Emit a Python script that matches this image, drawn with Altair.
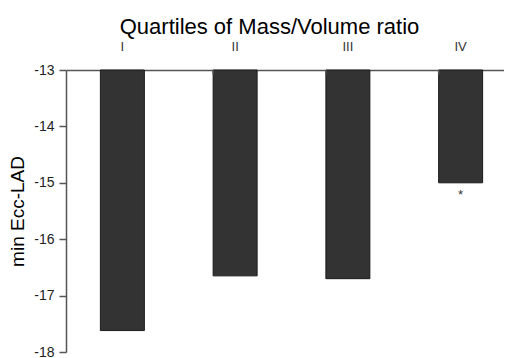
import altair as alt
import pandas as pd

categories = ["I", "II", "III", "IV"]
values = [-17.62, -16.65, -16.7, -15.0]
marks = ["", "", "", "*"]

df = pd.DataFrame({"cat": categories, "val": values, "mark": marks})

xscale = alt.Scale(domain=categories, range=[0, 451], paddingInner=0.61, paddingOuter=0.305)
yscale = alt.Scale(domain=[-18, -13], nice=False, zero=False)

base = alt.Chart(df)

bars = base.mark_bar(color="#333333", stroke="#1a1a1a", strokeWidth=1).encode(
    x=alt.X("cat:N", scale=xscale, sort=categories,
            axis=alt.Axis(orient="top", title="Quartiles of Mass/Volume ratio",
                          labelAngle=0, ticks=False, labelPadding=17,
                          labelFont="Liberation Sans", labelFontSize=13, labelColor="#333",
                          titleFont="Liberation Sans", titleFontSize=22, titleFontWeight="normal",
                          titleColor="#000", titleX=203, titleY=-37,
                          titleBaseline="alphabetic", titleAlign="center",
                          domainColor="#555", domainWidth=1.5)),
    y=alt.Y("val:Q", scale=yscale,
            axis=alt.Axis(title="min Ecc-LAD", values=[-18, -17, -16, -15, -14, -13],
                          labelExpr="'' + datum.value",
                          grid=False, tickSize=7, tickColor="#555", tickWidth=1.5,
                          domainColor="#555", domainWidth=1.5,
                          labelFont="Liberation Sans", labelFontSize=14, labelColor="#222",
                          labelPadding=5,
                          titleFont="Liberation Sans", titleFontSize=19, titleFontWeight="normal",
                          titleColor="#000", titleX=-49, titleBaseline="middle")),
    y2=alt.datum(-13),
)

ticks = alt.Chart(pd.DataFrame({"cat": categories[1:]})).mark_rule(color="#555", strokeWidth=1.5).encode(
    x=alt.X("cat:N", scale=xscale, sort=categories, bandPosition=0),
    y=alt.datum(-13),
    y2=alt.datum(-13.08),
)

stars = base.mark_text(fontSize=13, color="#333", dy=12, font="Liberation Sans").encode(
    x=alt.X("cat:N", scale=xscale, sort=categories),
    y=alt.Y("val:Q", scale=yscale),
    text="mark:N",
)

chart = alt.layer(bars, ticks, stars).properties(
    width=438, height=282,
    autosize=alt.AutoSizeParams(type="none"),
    padding={"left": 58, "top": 62, "right": 0, "bottom": 6},
).configure_view(stroke=None)

chart.save("out.html", embed_options={"renderer": "svg", "actions": False})
